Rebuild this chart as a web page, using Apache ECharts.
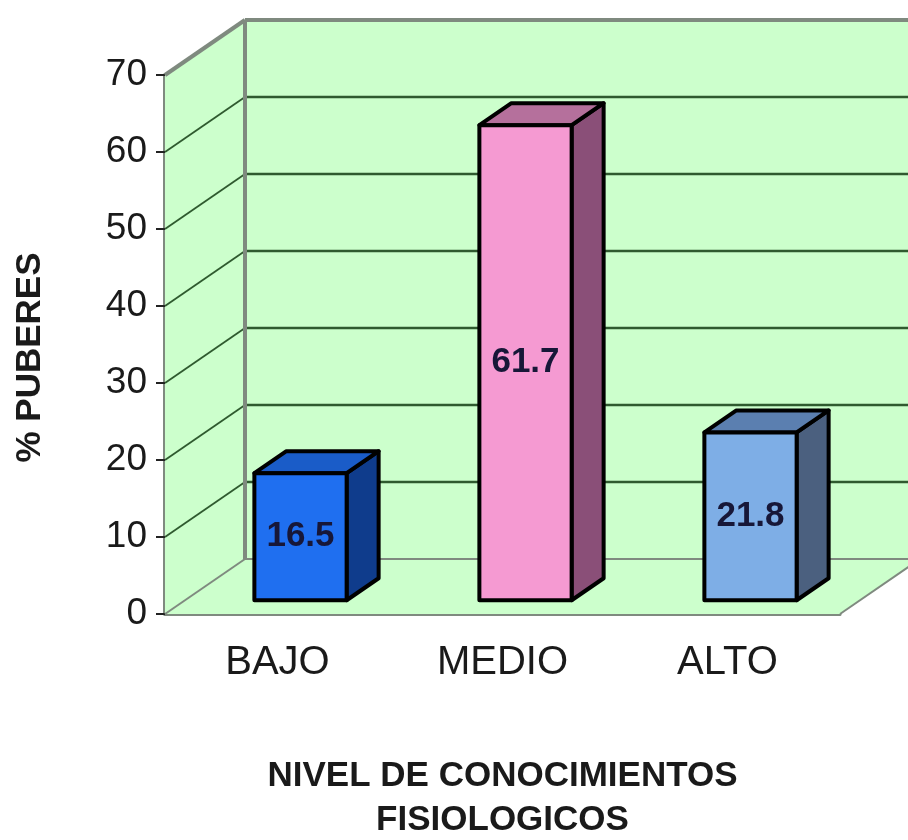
<!DOCTYPE html>
<html>
<head>
<meta charset="utf-8">
<script src="https://cdn.jsdelivr.net/npm/echarts@6/dist/echarts.min.js"></script>
<style>
html, body { margin: 0; background: #fff; }
#chart { width: 908px; height: 840px; }
</style>
</head>
<body>
<div id="chart"></div>
<script>
// datos del gráfico
const categories = ['BAJO', 'MEDIO', 'ALTO']
const values = [16.5, 61.7, 21.8]
const yTicks = [0, 10, 20, 30, 40, 50, 60, 70]

// estilos (caras de cada barra)
const frontColors = ['#1f6ff0', '#f59ad2', '#7eaee6']
const sideColors = ['#0f3c8c', '#8a4f78', '#4b607f']
const topColors = ['#1a5cc8', '#b5709c', '#5b7fb0']

const WALL = '#ccffcc'
const EDGE = '#7f8a7f'
const GRID = '#2f5a2f'
const FONT = '"Liberation Sans", Arial, sans-serif'
// profundidad total del "3D"
const DX = 80, DY = -55
// barra: empieza a 1/4 de la profundidad y ocupa 0.4
const F0 = 0.25, FD = 0.4

function renderWalls(params, api) {
    const o = api.coord([0, 0])
    const bw = api.size([1, 0])[0]
    const x0 = o[0] - bw / 2
    const x1 = x0 + bw * categories.length
    const y0 = o[1]
    const yTop = api.coord([0, yTicks[yTicks.length - 1]])[1]
    const xr = x1 + DX + 40
    const kids = []
    // pared del fondo
    kids.push({type: 'polygon', shape: {points: [[x0 + DX, yTop + DY], [xr, yTop + DY], [xr, y0 + DY], [x0 + DX, y0 + DY]]},
        style: {fill: WALL}})
    // pared izquierda
    kids.push({type: 'polygon', shape: {points: [[x0, yTop], [x0 + DX, yTop + DY], [x0 + DX, y0 + DY], [x0, y0]]},
        style: {fill: WALL}})
    // piso
    kids.push({type: 'polygon', shape: {points: [[x0, y0], [x1, y0], [x1 + DX, y0 + DY], [x0 + DX, y0 + DY]]},
        style: {fill: WALL}})
    yTicks.forEach((t, k) => {
        const y = api.coord([0, t])[1]
        const edge = (k === 0 || k === yTicks.length - 1)
        const st = edge ? {stroke: EDGE, lineWidth: k === 0 ? 2 : 4} : {stroke: GRID, lineWidth: 2.5}
        kids.push({type: 'line', shape: {x1: x0 + DX, y1: y + DY, x2: xr, y2: y + DY}, style: st})
        kids.push({type: 'line', shape: {x1: x0, y1: y, x2: x0 + DX, y2: y + DY},
            style: edge ? st : {stroke: GRID, lineWidth: 1.8}})
    })
    // arista vertical del fondo
    kids.push({type: 'line', shape: {x1: x0 + DX, y1: yTop + DY, x2: x0 + DX, y2: y0 + DY}, style: {stroke: EDGE, lineWidth: 4}})
    // arista derecha del piso
    kids.push({type: 'line', shape: {x1: x1, y1: y0, x2: x1 + DX, y2: y0 + DY}, style: {stroke: EDGE, lineWidth: 2}})
    return {type: 'group', children: kids}
}

function renderBar(params, api) {
    const i = api.value(0)
    const v = api.value(1)
    const base = api.coord([i, 0])
    const top = api.coord([i, v])
    const bw = api.size([1, 0])[0]
    const w = bw * 0.41
    const sx = DX * F0, sy = DY * F0
    const dx = DX * FD, dy = DY * FD
    const xa = base[0] - w / 2 + sx + 3
    const xb = xa + w
    const yb = base[1] + sy
    const yt = top[1] + sy
    const line = {stroke: '#000', lineWidth: 4, lineJoin: 'round'}
    return {
        type: 'group',
        children: [
            {type: 'polygon', shape: {points: [[xb, yb], [xb + dx, yb + dy], [xb + dx, yt + dy], [xb, yt]]},
                style: Object.assign({fill: sideColors[i]}, line)},
            {type: 'polygon', shape: {points: [[xa, yt], [xb, yt], [xb + dx, yt + dy], [xa + dx, yt + dy]]},
                style: Object.assign({fill: topColors[i]}, line)},
            {type: 'rect', shape: {x: xa, y: yt, width: w, height: yb - yt},
                style: Object.assign({fill: frontColors[i]}, line)},
            {type: 'text', style: {text: String(v), x: (xa + xb) / 2, y: (yt + yb) / 2, align: 'center',
                verticalAlign: 'middle', font: 'bold 35px ' + FONT, fill: '#171738'}}
        ]
    }
}

let option = {
    animation: false,
    backgroundColor: '#fff',
    grid: {left: 165, right: 68, top: 75, bottom: 226, outerBoundsMode: 'none', containLabel: false},
    xAxis: {
        type: 'category',
        data: categories,
        name: 'NIVEL DE CONOCIMIENTOS\nFISIOLOGICOS',
        nameLocation: 'middle',
        nameGap: 140,
        nameTextStyle: {fontFamily: FONT, fontWeight: 'bold', fontSize: 35, color: '#1a1a1a', lineHeight: 44},
        axisLine: {lineStyle: {color: EDGE, width: 3}},
        axisTick: {length: 12, lineStyle: {color: '#6a6a6a', width: 2}},
        axisLabel: {margin: 29, fontFamily: FONT, fontSize: 40, color: '#1a1a1a'}
    },
    yAxis: {
        type: 'value',
        min: 0,
        max: 70,
        interval: 10,
        name: '% PUBERES',
        nameLocation: 'middle',
        nameGap: 117,
        nameRotate: 90,
        nameTextStyle: {fontFamily: FONT, fontWeight: 'bold', fontSize: 35, color: '#1a1a1a', padding: [0, 26, 0, 0]},
        axisLine: {show: true, lineStyle: {color: EDGE, width: 4}},
        axisTick: {show: true, length: 9, lineStyle: {color: '#222', width: 2}},
        axisLabel: {margin: 18, fontFamily: FONT, fontSize: 37, color: '#1a1a1a'},
        splitLine: {show: false}
    },
    series: [
        {type: 'custom', z: 1, clip: false, renderItem: renderWalls, data: [[0, 0]], silent: true},
        {type: 'custom', z: 3, clip: false, renderItem: renderBar, data: values.map((v, i) => [i, v])}
    ]
}

let chartDom = echarts.init(document.querySelector('#chart'))
chartDom.setOption(option)
</script>
</body>
</html>
